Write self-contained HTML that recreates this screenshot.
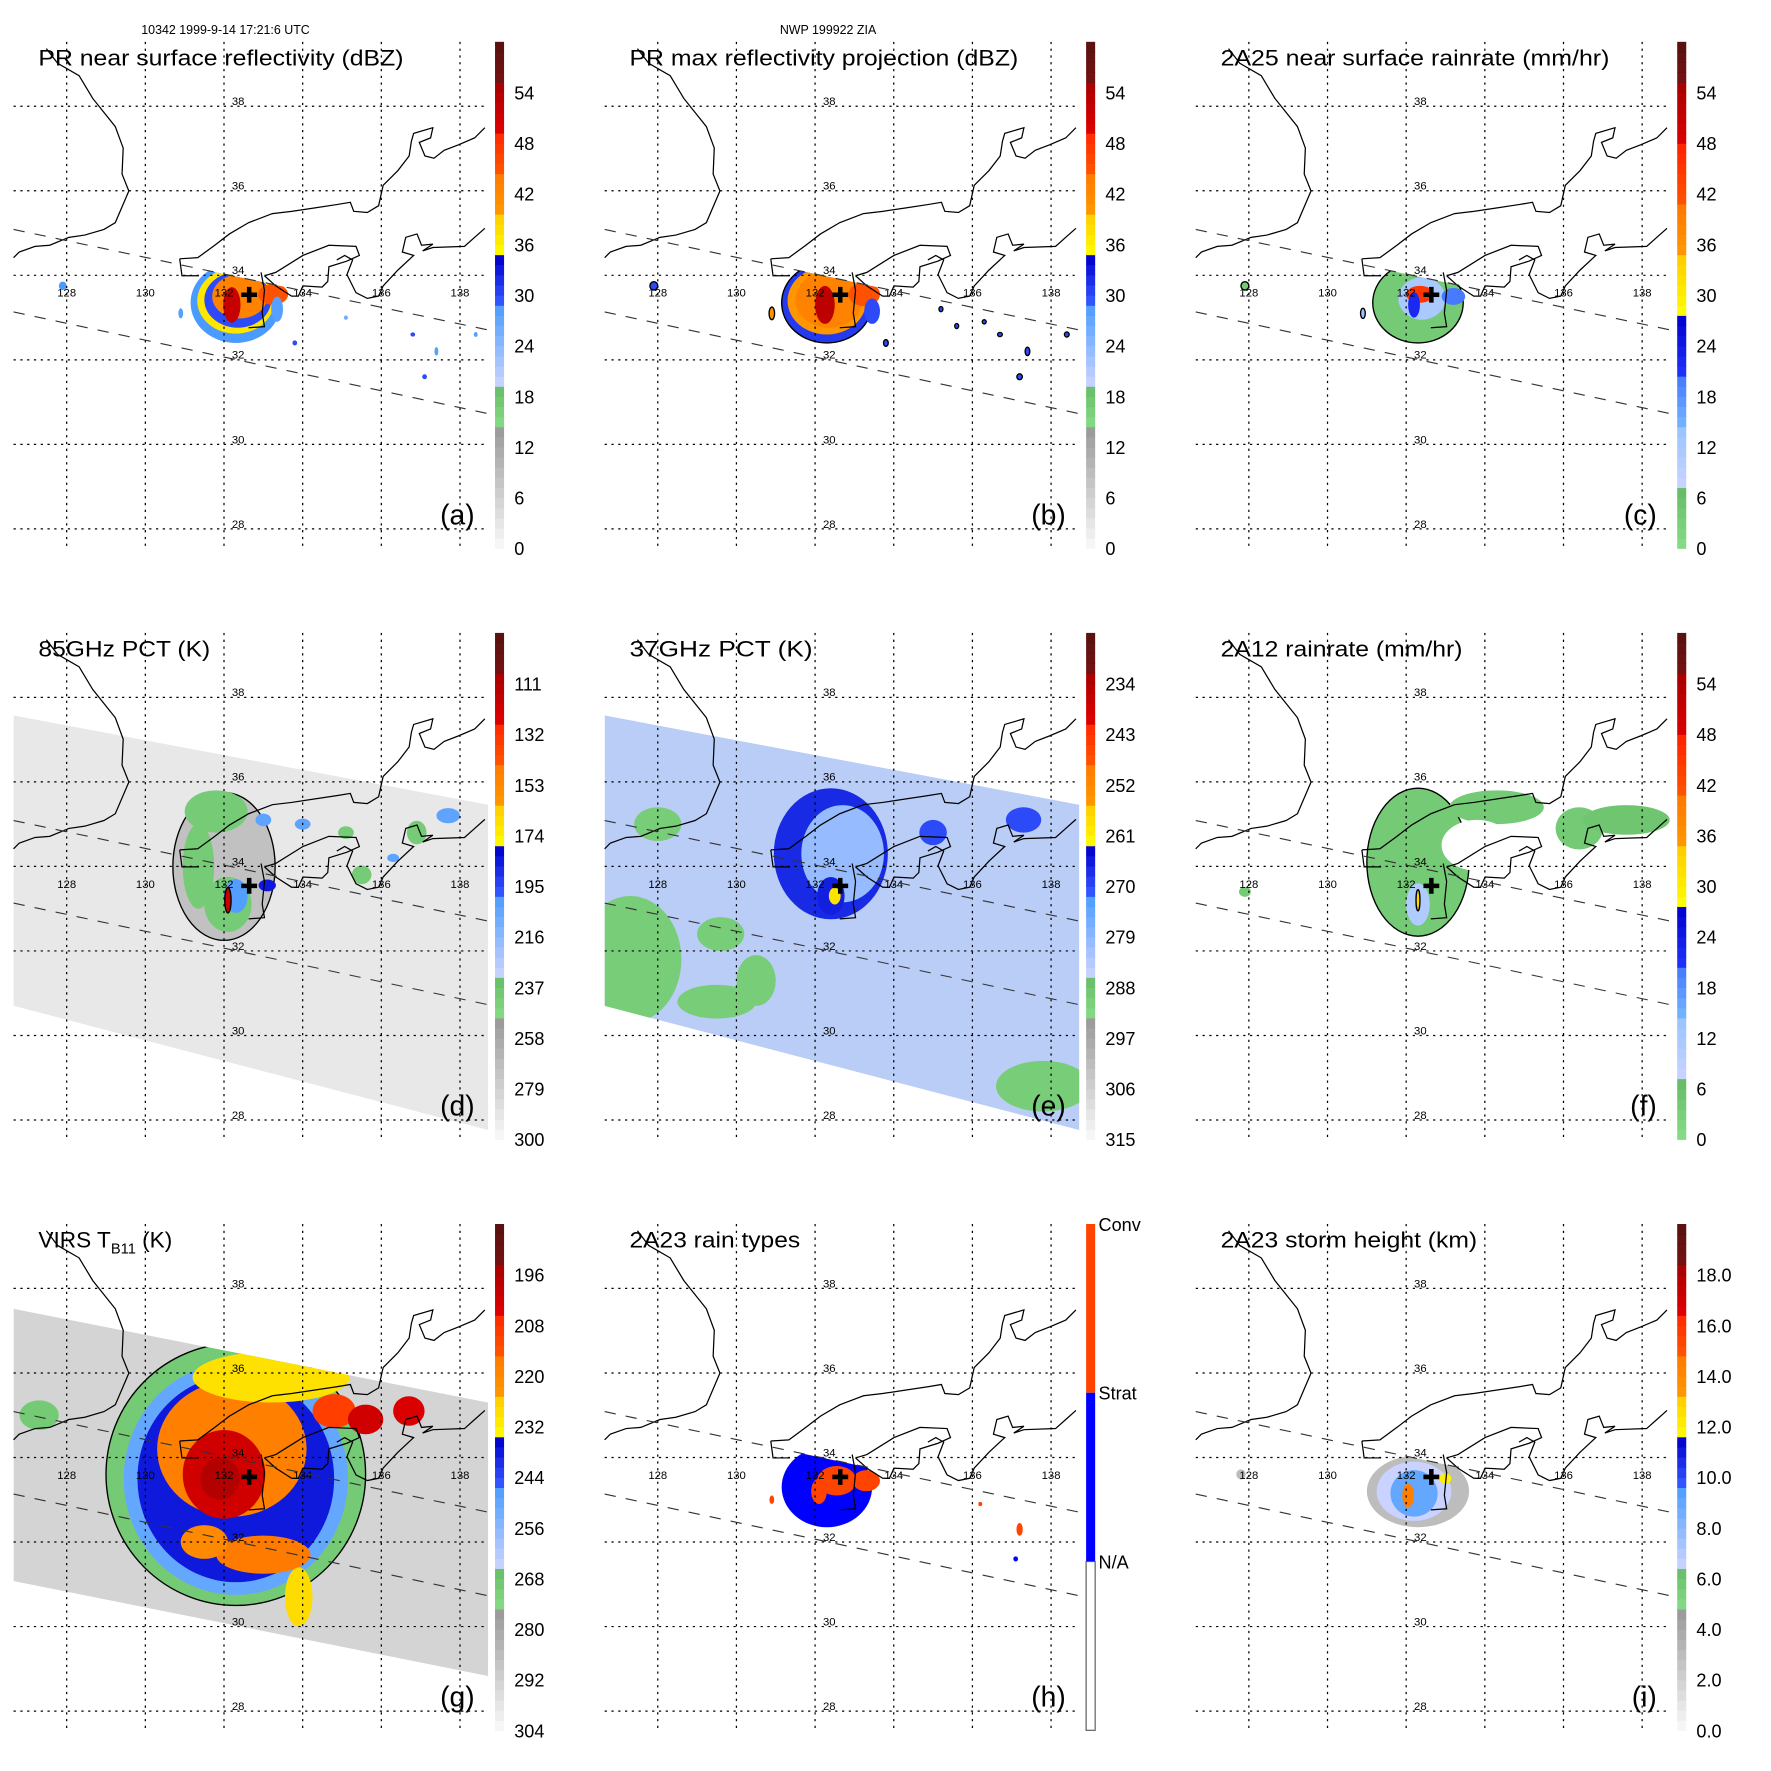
<!DOCTYPE html>
<html><head><meta charset="utf-8">
<style>
html,body{margin:0;padding:0;background:#fff;}
svg{display:block;font-family:"Liberation Sans",sans-serif;}
</style></head>
<body>
<svg id="fig" xmlns="http://www.w3.org/2000/svg" width="1771" height="1771" viewBox="0 0 1567 1567">
<rect x="0" y="0" width="1567" height="1567" fill="#fff"/>
<text x="125" y="30" font-size="11">10342 1999-9-14 17:21:6 UTC</text>
<text x="690" y="30" font-size="11">NWP 199922 ZIA</text>
</svg>
<script>
// ---- data ----
const panelTitles = ["PR near surface reflectivity (dBZ)","PR max reflectivity projection (dBZ)","2A25 near surface rainrate (mm/hr)","85GHz PCT (K)","37GHz PCT (K)","2A12 rainrate (mm/hr)","VIRS T","2A23 rain types","2A23 storm height (km)"];
const panelLetters = ["(a)","(b)","(c)","(d)","(e)","(f)","(g)","(h)","(i)"];
const titleWidths = [323,344,344,152,162,214,127,151,227];
const lonTicks = [128,130,132,134,136,138];
const latTicks = [38,36,34,32,30,28];
const ticksA = ["54","48","42","36","30","24","18","12","6","0"];
const ticksC = ["54","48","42","36","30","24","18","12","6","0"];
const ticksD = ["111","132","153","174","195","216","237","258","279","300"];
const ticksE = ["234","243","252","261","270","279","288","297","306","315"];
const ticksG = ["196","208","220","232","244","256","268","280","292","304"];
const ticksI = ["18.0","16.0","14.0","12.0","10.0","8.0","6.0","4.0","2.0","0.0"];
const rangeA = [0,60], rangeD = [321,111], rangeE = [324,234], rangeG = [316,196], rangeI = [0,20];
const stormCenter = [132.64, 33.54];
// fields: [lon, lat, radiusLon, radiusLat, value]
const fieldA = [[132.3,33.35,1.15,0.95,29],[132.3,33.4,0.98,0.78,37],[132.35,33.42,0.85,0.66,30],[132.4,33.5,0.7,0.52,43],[132.2,33.3,0.22,0.42,52],[133.25,33.55,0.38,0.25,45],[133.35,33.2,0.15,0.3,28],[127.9,33.75,0.1,0.1,29],[130.9,33.1,0.06,0.12,28],[135.5,33.4,0.05,0.05,27],[136.8,32.6,0.06,0.05,30],[137.4,32.2,0.05,0.1,28],[137.1,31.6,0.06,0.06,30],[138.4,32.6,0.05,0.06,28],[133.8,32.4,0.06,0.06,30],[135.1,33.0,0.05,0.05,26]];
const fieldB = [[132.3,33.35,1.15,0.95,31],[132.3,33.4,1.0,0.8,40],[132.35,33.42,0.85,0.66,43],[132.25,33.3,0.25,0.45,53],[133.25,33.55,0.4,0.28,45],[133.45,33.15,0.2,0.3,30],[127.9,33.75,0.1,0.1,30],[130.9,33.1,0.07,0.15,40],[135.2,33.2,0.05,0.06,30],[135.6,32.8,0.05,0.06,30],[136.7,32.6,0.06,0.05,30],[137.4,32.2,0.06,0.1,30],[137.2,31.6,0.07,0.07,30],[138.4,32.6,0.06,0.06,30],[133.8,32.4,0.06,0.08,30],[136.3,32.9,0.05,0.05,30]];
const fieldC = [[132.3,33.35,1.15,0.95,4],[132.4,33.45,0.6,0.5,12],[132.35,33.55,0.35,0.2,45],[132.2,33.3,0.15,0.3,22],[133.2,33.5,0.3,0.2,20],[130.9,33.1,0.06,0.12,14],[127.9,33.75,0.1,0.1,4]];
const fieldD = [[132.0,34.0,1.3,1.75,292],[131.8,35.3,0.8,0.5,262],[131.35,34.0,0.4,1.0,262],[132.1,33.1,0.6,0.65,262],[132.3,33.3,0.3,0.4,222],[132.1,33.2,0.08,0.3,140],[133.1,33.55,0.22,0.14,205],[133.0,35.1,0.2,0.15,225],[134.0,35.0,0.2,0.13,225],[135.1,34.8,0.2,0.15,262],[135.5,33.8,0.25,0.22,262],[136.9,34.8,0.25,0.28,262],[137.7,35.2,0.3,0.18,225],[136.3,34.2,0.15,0.1,225]];
const fieldE = [[127.3,31.8,1.3,1.5,299],[128.0,35.0,0.6,0.4,299],[129.6,32.4,0.6,0.4,299],[130.5,31.3,0.5,0.6,299],[129.5,30.8,1.0,0.4,299],[137.8,28.8,1.2,0.6,299],[132.4,34.3,1.45,1.55,276],[132.7,34.3,1.05,1.15,289],[132.4,33.3,0.35,0.45,275],[132.5,33.3,0.15,0.2,268],[135.0,34.8,0.35,0.3,279],[137.3,35.1,0.45,0.3,279]];
const fieldF = [[132.3,34.1,1.3,1.75,4],[134.3,35.4,1.2,0.4,4],[136.4,34.9,0.6,0.5,4],[137.6,35.1,1.1,0.35,5],[133.8,34.5,0.9,0.6,-1],[132.3,33.1,0.3,0.5,11],[132.3,33.2,0.05,0.25,33],[127.9,33.4,0.15,0.12,4]];
const fieldG = [[132.3,33.6,3.3,3.1,282],[132.3,33.5,2.85,2.75,262],[132.3,33.5,2.5,2.45,250],[132.2,34.2,1.9,1.6,229],[133.2,35.9,2.0,0.6,241],[132.0,33.6,1.05,1.05,214],[131.9,33.5,0.5,0.5,208],[134.8,35.1,0.55,0.4,222],[135.6,34.9,0.45,0.35,214],[136.7,35.1,0.4,0.35,216],[133.0,31.7,1.2,0.45,228],[131.5,32.0,0.6,0.4,232],[133.9,30.7,0.35,0.7,240],[127.3,35.0,0.5,0.35,282]];
const fieldH = [[132.3,33.3,1.15,0.95,1],[132.55,33.45,0.5,0.35,2],[133.3,33.45,0.35,0.25,2],[132.1,33.2,0.2,0.3,2],[137.2,32.3,0.08,0.15,2],[136.2,32.9,0.05,0.05,2],[130.9,33.0,0.06,0.1,2],[137.1,31.6,0.06,0.06,1]];
const fieldI = [[132.3,33.2,1.3,0.85,3],[132.2,33.2,0.95,0.7,6.5],[132.2,33.15,0.6,0.55,9],[132.05,33.1,0.15,0.28,14.5],[133.0,33.5,0.15,0.12,12],[127.8,33.6,0.12,0.12,3]];

// ---- geometry ----
const COLS=[12,535,1058], ROWS=[37,560,1083];
const MAPW=420, MAPH=450, CBX=426, CBW=8, CBH=448;
function proj(c,r,lon,lat){return [COLS[c]+47+(lon-128)*34.8, ROWS[r]+57+(38-lat)*37.4];}
const NS="http://www.w3.org/2000/svg";
const svg=document.getElementById('fig');
function el(tag,attrs,parent){const e=document.createElementNS(NS,tag);for(const k in attrs)e.setAttribute(k,attrs[k]);(parent||svg).appendChild(e);return e;}
function hex(c){return [parseInt(c.slice(1,3),16),parseInt(c.slice(3,5),16),parseInt(c.slice(5,7),16)];}
function mix(a,b,f){const A=hex(a),B=hex(b);return 'rgb('+A.map((v,i)=>Math.round(v+(B[i]-v)*f)).join(',')+')';}
const stopsStd=[[0,0.237,'#fafafa','#999999'],[0.237,0.322,'#88dd88','#66bb66'],[0.322,0.489,'#ccd4ff','#4499ff'],[0.489,0.576,'#3355ff','#0000cc'],[0.576,0.66,'#ffff00','#ffcc00'],[0.66,0.744,'#ff9900','#ff7700'],[0.744,0.83,'#ff5500','#ff2200'],[0.83,0.915,'#dd0000','#aa0000'],[0.915,1.01,'#771111','#551111']];
const stopsRain=[[0,0.118,'#88dd88','#66bb66'],[0.118,0.237,'#ccd4ff','#99c4ff'],[0.237,0.34,'#77bbff','#4477ff'],[0.34,0.46,'#2233ff','#0000cc'],[0.46,0.578,'#ffff00','#ffcc00'],[0.578,0.678,'#ff9900','#ff7700'],[0.678,0.796,'#ff5500','#ff2200'],[0.796,0.915,'#dd0000','#aa0000'],[0.915,1.01,'#771111','#551111']];
function colorAt(stops,t){t=Math.max(0,Math.min(1,t));for(const s of stops){if(t>=s[0]&&t<s[1])return mix(s[2],s[3],(t-s[0])/(s[1]-s[0]));}return stops[stops.length-1][3];}

const PRswath=[[0,166],[420,255],[420,329],[0,239]];
const TMIswath=[[0,73],[420,152],[420,440],[0,330]];
const VIRSswath=[[0,75],[420,158],[420,400],[0,316]];
const korea=[[29,6],[39,19],[58,30],[70,50],[90,75],[97,94],[96,117],[102,132],[90,160],[80,166],[63,171],[49,173],[32,180],[19,181],[5,186],[0,191]];
const honshuN=[[147,192],[163,191],[178,180],[191,170],[208,160],[229,152],[246,150],[266,147],[286,144],[298,142],[301,150],[313,151],[323,145],[327,127],[340,114],[350,101],[352,88],[354,81],[371,76],[369,85],[359,89],[364,101],[372,103],[381,96],[394,91],[408,85],[417,76]];
const honshuS=[[417,165],[408,173],[399,181],[371,182],[362,185],[371,179],[361,180],[357,170],[347,173],[344,186],[354,189],[340,202],[327,216],[323,225],[313,227],[303,222],[295,206],[300,193],[293,189],[286,193]];
const shikoku=[[222,207],[232,204],[256,189],[279,180],[303,181],[306,189],[295,194],[279,199],[278,212],[273,217],[256,216],[252,225],[246,225],[232,216],[222,207]];
const kyushu1=[[147,192],[149,207],[164,207]];
const kyushu2=[[219,204],[222,220],[220,240],[222,252],[208,253]];

function rectPath(pts,L,T){return 'M'+pts.map(p=>(L+p[0])+','+(T+p[1])).join(' L');}

function drawPanel(i, field, stops, range, swath, outline){
  const c=i%3, r=Math.floor(i/3), L=COLS[c], T=ROWS[r];
  const g=el('g',{});
  
  
  const cid='clip'+i;
  const cp=el('clipPath',{id:cid},g);
  el('path',{d:rectPath(swath,L,T)+' Z'},cp);
  const fg=el('g',{'clip-path':'url(#'+cid+')'},g);
  
  
  if(range[2]!==undefined){
    const bg=el('path',{d:rectPath(swath,L,T)+' Z',fill:range[2]},fg);
    
    
  }
  field.forEach((f,k)=>{
    const p=proj(c,r,f[0],f[1]);
    let col;
    if(stops==='types'){col=f[4]===2?'#ff4400':(f[4]===1?'#0000ff':'#fff');}
    else if(f[4]<0){col='#ffffff';}
    else{col=colorAt(stops,(f[4]-range[0])/(range[1]-range[0]));}
    const e=el('ellipse',{cx:p[0],cy:p[1],rx:f[2]*34.8,ry:f[3]*37.4,fill:col},fg);
    if(outline&&(k===0||f[2]<0.12)){e.setAttribute('stroke','#000');e.setAttribute('stroke-width','1.2');}
    
    
  });
  lonTicks.forEach(lon=>{
    const x=proj(c,r,lon,38)[0];
    const ln=el('line',{x1:x,y1:T,x2:x,y2:T+MAPH,stroke:'#000','stroke-width':1.1,'stroke-dasharray':'2,4'},g);
    
    
    const tx=el('text',{x:x,y:proj(c,r,lon,33.6)[1]+4,'font-size':10,'text-anchor':'middle'},g);
    tx.textContent=lon;
    
    
  });
  latTicks.forEach(lat=>{
    const y=proj(c,r,128,lat)[1];
    const ln=el('line',{x1:L,y1:y,x2:L+MAPW,y2:y,stroke:'#000','stroke-width':1.1,'stroke-dasharray':'2,4'},g);
    
    
    const tx=el('text',{x:proj(c,r,132.2,lat)[0],y:y-1,'font-size':10},g);
    tx.textContent=lat;
    
    
  });
  [korea,honshuN,honshuS,shikoku,kyushu1,kyushu2].forEach(cl=>{
    const pth=el('path',{d:rectPath(cl,L,T),fill:'none',stroke:'#000','stroke-width':1.1},g);
    
    
  });
  [[PRswath[0],PRswath[1]],[PRswath[3],PRswath[2]]].forEach(s=>{
    const ln=el('line',{x1:L+s[0][0],y1:T+s[0][1],x2:L+s[1][0],y2:T+s[1][1],stroke:'#333','stroke-width':1,'stroke-dasharray':'10,9'},g);
    
    
  });
  const sc=proj(c,r,stormCenter[0],stormCenter[1]);
  const cr=el('path',{d:`M${sc[0]-7},${sc[1]} h14 M${sc[0]},${sc[1]-7} v14`,stroke:'#000','stroke-width':4},g);
  
  
  const tt=el('text',{x:L+22,y:T+21,'font-size':20,textLength:titleWidths[i],lengthAdjust:'spacingAndGlyphs'},g);
  tt.textContent=panelTitles[i];
  
  
  if(i===6){
    tt.removeAttribute('textLength');
    const sub=el('tspan',{'font-size':13,dy:5},tt); sub.textContent='B11';
    const rest=el('tspan',{dy:-5},tt); rest.textContent=' (K)';
  }
  const pl=el('text',{x:L+408,y:T+427,'font-size':25,'text-anchor':'end'},g);
  pl.textContent=panelLetters[i];
  
  
  return {g,L,T};
}

function drawColorbar(i,stops,labels){
  const c=i%3, r=Math.floor(i/3), L=COLS[c]+CBX, T=ROWS[r];
  const g=el('g',{});
  
  
  const N=50;
  for(let k=0;k<N;k++){
    const t=(k+0.5)/N;
    el('rect',{x:L,y:T+CBH-(k+1)*CBH/N,width:CBW,height:CBH/N+0.6,fill:colorAt(stops,t)},g);
  }
  labels.forEach((lb,k)=>{
    const tx=el('text',{x:L+17,y:T+45+k*44.8+6,'font-size':16},g);
    tx.textContent=lb;
    
    
  });
}

drawPanel(0,fieldA,stopsStd,rangeA,PRswath,false);
drawPanel(1,fieldB,stopsStd,rangeA,PRswath,true);
drawPanel(2,fieldC,stopsRain,rangeA,PRswath,true);
drawPanel(3,fieldD,stopsStd,[rangeD[0],rangeD[1],'#e8e8e8'],TMIswath,true);
drawPanel(4,fieldE,stopsStd,[rangeE[0],rangeE[1],'#b9cdf7'],TMIswath,false);
drawPanel(5,fieldF,stopsRain,rangeA,TMIswath,true);
drawPanel(6,fieldG,stopsStd,[rangeG[0],rangeG[1],'#d4d4d4'],VIRSswath,true);
drawPanel(7,fieldH,'types',rangeA,PRswath,false);
drawPanel(8,fieldI,stopsStd,rangeI,PRswath,false);

drawColorbar(0,stopsStd,ticksA);
drawColorbar(1,stopsStd,ticksA);
drawColorbar(2,stopsRain,ticksC);
drawColorbar(3,stopsStd,ticksD);
drawColorbar(4,stopsStd,ticksE);
drawColorbar(5,stopsRain,ticksC);
drawColorbar(6,stopsStd,ticksG);
drawColorbar(8,stopsStd,ticksI);

(function(){
  const L=COLS[1]+CBX, T=ROWS[2];
  const g=el('g',{});
  
  
  const cats=[['Conv','#ff4400'],['Strat','#0000ff'],['N/A','#ffffff']];
  cats.forEach((ct,k)=>{
    const y=T+k*CBH/3;
    el('rect',{x:L,y:y,width:CBW,height:CBH/3,fill:ct[1],stroke:k===2?'#555':'none','stroke-width':1},g);
    const tx=el('text',{x:L+11,y:y+6,'font-size':16},g);
    tx.textContent=ct[0];
    
    
  });
})();
</script>
</body></html>
